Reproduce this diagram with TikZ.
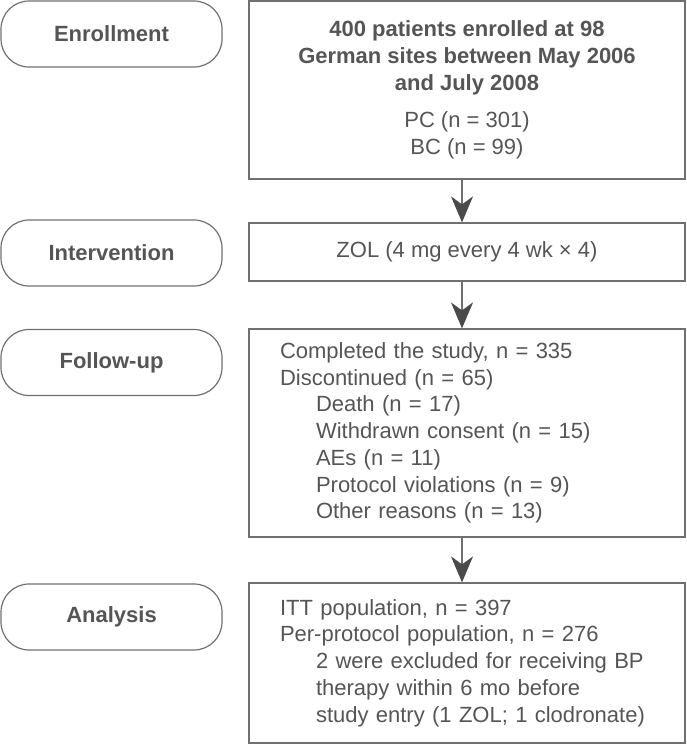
\documentclass[tikz,border=0pt]{standalone}
\usepackage{fontspec}
\setmainfont{Liberation Sans}
\usetikzlibrary{arrows.meta}
\definecolor{txt}{HTML}{555555}
\definecolor{ln}{HTML}{707070}
\definecolor{arr}{HTML}{4A4A4A}
\begin{document}
\begin{tikzpicture}[x=1pt,y=-1pt,
  stage/.style={draw=ln, line width=1.2pt, rounded corners=28pt, minimum width=221pt, minimum height=66pt, inner sep=0pt, font=\bfseries\fontsize{22}{26.7}\selectfont, text=txt},
  infobox/.style={draw=ln, line width=1.2pt, minimum width=436pt, inner sep=0pt, font=\fontsize{22}{26.7}\selectfont, text=txt},
  flow/.style={draw=ln, line width=1.2pt, -{Stealth[length=26pt,width=22pt,inset=8pt,fill=arr,color=arr]}},
]
\useasboundingbox (0,0) rectangle (686,744);
\node[stage] (s1) at (111.5,34) {Enrollment};
\node[stage] (s2) at (111.5,253) {Intervention};
\node[stage] (s3) at (111.5,362.5) {Follow-up};
\node[stage] (s4) at (111.5,617) {Analysis};

\node[infobox, minimum height=178pt, align=center] (b1) at (467,90) {\textbf{400 patients enrolled at 98}\\\textbf{German sites between May 2006}\\\textbf{and July 2008}\\[11pt]PC (n = 301)\\BC (n = 99)};
\node[infobox, minimum height=58pt] (b2) at (467,252) {ZOL (4 mg every 4 wk × 4)};
\node[infobox, minimum height=208pt, text width=374pt, inner xsep=31pt, align=left] (b3) at (467,433) {Completed the study, n = 335\\Discontinued (n = 65)\\\hspace*{36pt}Death (n = 17)\\\hspace*{36pt}Withdrawn consent (n = 15)\\\hspace*{36pt}AEs (n = 11)\\\hspace*{36pt}Protocol violations (n = 9)\\\hspace*{36pt}Other reasons (n = 13)};
\node[infobox, minimum height=160pt, text width=374pt, inner xsep=31pt, align=left] (b4) at (467,663) {ITT population, n = 397\\Per-protocol population, n = 276\\\hspace*{36pt}2 were excluded for receiving BP\\\hspace*{36pt}therapy within 6 mo before\\\hspace*{36pt}study entry (1 ZOL; 1 clodronate)};

\draw[flow] ([xshift=-5pt]b1.south) -- ([xshift=-5pt]b2.north);
\draw[flow] ([xshift=-5pt]b2.south) -- ([xshift=-5pt]b3.north);
\draw[flow] ([xshift=-5pt]b3.south) -- ([xshift=-5pt]b4.north);
\end{tikzpicture}
\end{document}
